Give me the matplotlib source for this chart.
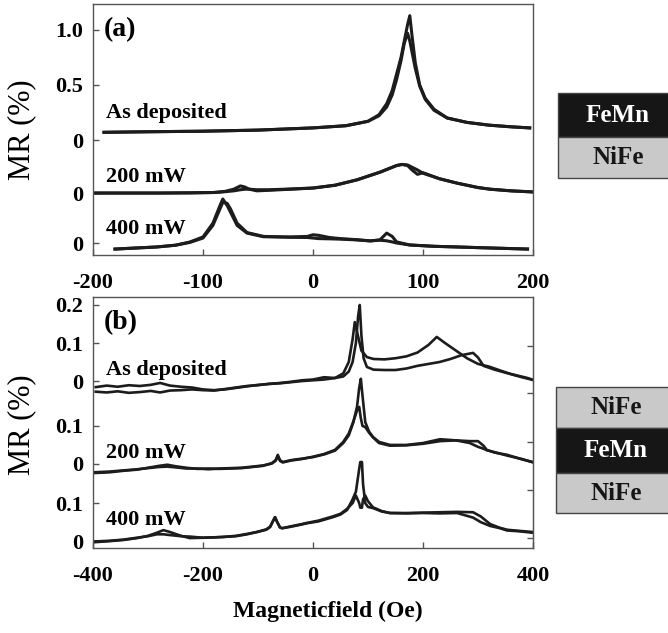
import matplotlib.pyplot as plt
from matplotlib.patches import Rectangle
import numpy as np

plt.rcParams['font.family'] = ['Liberation Serif', 'DejaVu Serif']
plt.rcParams['font.weight'] = 'bold'

# ---------------- panel (a): FeMn/NiFe bilayer, field -200..200 Oe
a_asdep_x = [-190, -150, -100, -50, 0, 30, 50, 60, 67, 72, 76, 80, 83, 86, 88, 90, 93, 97, 102, 110, 122, 140, 160, 180, 197]
a_asdep_up = [0.07, 0.075, 0.08, 0.09, 0.11, 0.13, 0.17, 0.23, 0.33, 0.45, 0.6, 0.75, 0.9, 1.05, 1.13, 0.95, 0.7, 0.5, 0.38, 0.28, 0.2, 0.16, 0.135, 0.12, 0.11]
a_asdep_dn = [0.07, 0.075, 0.08, 0.09, 0.11, 0.13, 0.17, 0.22, 0.3, 0.41, 0.55, 0.72, 0.88, 0.97, 0.9, 0.8, 0.65, 0.49, 0.37, 0.27, 0.2, 0.16, 0.135, 0.12, 0.11]

a_200_x = [-200, -170, -140, -110, -90, -80, -72, -66, -62, -58, -51, -40, -20, 0, 20, 40, 61, 76, 81, 86, 90, 95, 100, 115, 131, 150, 161, 180, 200]
a_200_up = [0.0, 0.0, 0.0, 0.002, 0.005, 0.015, 0.035, 0.065, 0.055, 0.035, 0.02, 0.025, 0.035, 0.045, 0.07, 0.12, 0.19, 0.25, 0.26, 0.255, 0.235, 0.21, 0.18, 0.13, 0.09, 0.05, 0.035, 0.02, 0.01]
a_200_dn = [0.0, 0.0, 0.0, 0.002, 0.005, 0.012, 0.02, 0.03, 0.035, 0.035, 0.03, 0.03, 0.037, 0.046, 0.072, 0.12, 0.19, 0.25, 0.26, 0.25, 0.21, 0.17, 0.185, 0.13, 0.09, 0.05, 0.035, 0.02, 0.01]

a_400_x = [-180, -160, -142, -125, -112, -100, -91, -85, -82, -78, -75, -69, -60, -45, -21, -5, 0, 5, 15, 25, 40, 52, 61, 67, 72, 76, 88, 110, 131, 160, 195]
a_400_up = [-0.055, -0.045, -0.036, -0.02, 0.009, 0.055, 0.18, 0.33, 0.40, 0.34, 0.28, 0.16, 0.09, 0.057, 0.055, 0.06, 0.075, 0.07, 0.05, 0.04, 0.03, 0.018, 0.03, 0.09, 0.06, 0.01, -0.018, -0.03, -0.036, -0.045, -0.055]
a_400_dn = [-0.055, -0.045, -0.036, -0.02, 0.005, 0.045, 0.16, 0.30, 0.37, 0.36, 0.31, 0.18, 0.095, 0.06, 0.052, 0.05, 0.045, 0.04, 0.038, 0.035, 0.028, 0.02, 0.025, 0.02, 0.01, 0.0, -0.018, -0.03, -0.036, -0.045, -0.055]

a_offsets = [0, -0.482, -0.936]
a_labels = ['As deposited', '200 mW', '400 mW']

# ---------------- panel (b): NiFe/FeMn/NiFe trilayer, field -400..400 Oe
b_asdep_x1 = [-395, -375, -355, -335, -315, -295, -278, -260, -240, -220, -200, -180, -160, -140, -120, -100, -80, -60, -40, -20, 0, 20, 40, 55, 65, 72, 76, 80, 88, 98, 110, 130, 150, 170, 190, 210, 225, 240, 260, 280, 300, 320, 340, 360, 380, 400]
b_asdep_y1 = [-0.016, -0.012, -0.015, -0.011, -0.013, -0.010, -0.005, -0.012, -0.015, -0.017, -0.022, -0.024, -0.022, -0.018, -0.014, -0.010, -0.008, -0.005, -0.002, 0.002, 0.004, 0.010, 0.008, 0.02, 0.05, 0.11, 0.155, 0.13, 0.08, 0.063, 0.058, 0.057, 0.060, 0.065, 0.075, 0.095, 0.116, 0.100, 0.080, 0.060, 0.045, 0.038, 0.028, 0.018, 0.010, 0.003]
b_asdep_x2 = [-395, -375, -355, -335, -315, -295, -278, -260, -240, -220, -200, -180, -160, -140, -120, -100, -80, -60, -40, -20, 0, 20, 40, 55, 65, 72, 78, 82, 85, 88, 92, 98, 110, 130, 150, 170, 190, 210, 230, 250, 270, 291, 300, 310, 330, 350, 370, 390, 400]
b_asdep_y2 = [-0.028, -0.030, -0.027, -0.031, -0.029, -0.026, -0.030, -0.025, -0.024, -0.022, -0.024, -0.025, -0.021, -0.017, -0.013, -0.011, -0.007, -0.006, -0.003, 0.000, 0.002, 0.004, 0.008, 0.012, 0.025, 0.05, 0.10, 0.17, 0.20, 0.12, 0.06, 0.037, 0.030, 0.029, 0.029, 0.033, 0.040, 0.045, 0.050, 0.058, 0.068, 0.074, 0.062, 0.040, 0.030, 0.022, 0.015, 0.008, 0.003]

b_200_x = [-400, -370, -345, -320, -300, -280, -265, -250, -230, -210, -190, -170, -150, -130, -110, -91, -75, -68, -64, -60, -55, -40, -20, 0, 20, 40, 55, 65, 73, 80, 84, 87, 90, 95, 102, 109, 120, 140, 170, 200, 231, 260, 285, 300, 310, 316, 330, 353, 380, 400]
b_200_y1 = [-0.024, -0.022, -0.018, -0.015, -0.010, -0.005, -0.002, -0.006, -0.010, -0.013, -0.012, -0.013, -0.012, -0.011, -0.008, -0.005, 0.002, 0.010, 0.024, 0.010, 0.005, 0.010, 0.014, 0.018, 0.025, 0.035, 0.055, 0.075, 0.108, 0.15, 0.20, 0.224, 0.18, 0.11, 0.085, 0.071, 0.058, 0.050, 0.050, 0.055, 0.065, 0.062, 0.060, 0.060, 0.048, 0.037, 0.030, 0.024, 0.012, 0.005]
b_200_y2 = [-0.022, -0.020, -0.017, -0.014, -0.011, -0.008, -0.007, -0.009, -0.012, -0.012, -0.014, -0.012, -0.011, -0.010, -0.007, -0.004, 0.001, 0.008, 0.020, 0.008, 0.004, 0.009, 0.013, 0.019, 0.026, 0.037, 0.058, 0.08, 0.11, 0.14, 0.15, 0.12, 0.10, 0.097, 0.082, 0.07, 0.055, 0.048, 0.049, 0.053, 0.060, 0.062, 0.055, 0.045, 0.040, 0.036, 0.031, 0.022, 0.013, 0.004]

b_400_x = [-400, -370, -345, -320, -300, -284, -272, -260, -240, -224, -200, -180, -164, -140, -120, -102, -85, -78, -72, -69, -65, -60, -56, -40, -20, -11, 10, 36, 50, 62, 72, 78, 84, 86, 89, 91, 95, 100, 109, 125, 140, 170, 200, 230, 262, 291, 305, 322, 340, 353, 375, 400]
b_400_y1 = [-0.003, 0.000, 0.003, 0.008, 0.014, 0.022, 0.029, 0.024, 0.014, 0.008, 0.009, 0.010, 0.011, 0.013, 0.018, 0.024, 0.030, 0.037, 0.055, 0.063, 0.05, 0.036, 0.034, 0.038, 0.044, 0.047, 0.052, 0.063, 0.070, 0.082, 0.11, 0.13, 0.19, 0.208, 0.208, 0.15, 0.10, 0.09, 0.087, 0.078, 0.074, 0.074, 0.075, 0.076, 0.077, 0.076, 0.065, 0.045, 0.035, 0.030, 0.027, 0.024]
b_400_y2 = [-0.001, 0.001, 0.004, 0.009, 0.013, 0.018, 0.018, 0.016, 0.013, 0.012, 0.009, 0.010, 0.011, 0.014, 0.019, 0.024, 0.031, 0.038, 0.055, 0.063, 0.05, 0.036, 0.034, 0.039, 0.045, 0.048, 0.054, 0.065, 0.072, 0.085, 0.10, 0.12, 0.10, 0.088, 0.088, 0.11, 0.12, 0.105, 0.089, 0.079, 0.074, 0.073, 0.074, 0.073, 0.074, 0.062, 0.050, 0.040, 0.034, 0.028, 0.026, 0.022]

b_offsets = [0, -0.218, -0.421]

LINE = '#1c1c1c'
SPINE = '#555555'
W, H = 668, 633

fig = plt.figure(figsize=(W / 100, H / 100), dpi=100)
axA = fig.add_axes([93 / W, 1 - 255 / H, 440 / W, 251 / H])
axB = fig.add_axes([93 / W, 1 - 548 / H, 440 / W, 251 / H])

# panel (a) curves
curvesA = [(a_asdep_x, a_asdep_up, a_asdep_x, a_asdep_dn),
           (a_200_x, a_200_up, a_200_x, a_200_dn),
           (a_400_x, a_400_up, a_400_x, a_400_dn)]
for (x1, y1, x2, y2), off in zip(curvesA, a_offsets):
    axA.plot(x1, off + np.array(y1), color=LINE, lw=2.2, solid_joinstyle='round')
    axA.plot(x2, off + np.array(y2), color=LINE, lw=2.2, solid_joinstyle='round')

curvesB = [(b_asdep_x1, b_asdep_y1, b_asdep_x2, b_asdep_y2),
           (b_200_x, b_200_y1, b_200_x, b_200_y2),
           (b_400_x, b_400_y1, b_400_x, b_400_y2)]
for (x1, y1, x2, y2), off in zip(curvesB, b_offsets):
    axB.plot(x1, off + np.array(y1), color=LINE, lw=1.9, solid_joinstyle='round')
    axB.plot(x2, off + np.array(y2), color=LINE, lw=1.9, solid_joinstyle='round')

axA.set_xlim(-200, 200)
axA.set_ylim(-1.045, 1.236)
axA.set_xticks([-200, -100, 0, 100, 200])
axA.set_xticklabels(['-200', '-100', '0', '100', '200'])
axA.set_yticks([1.0, 0.5] + a_offsets)
axA.set_yticklabels(['1.0', '0.5', '0', '0', '0'])

axB.set_xlim(-400, 400)
axB.set_ylim(-0.439, 0.221)
axB.set_xticks([-400, -200, 0, 200, 400])
axB.set_xticklabels(['-400', '-200', '0', '200', '400'])
bt = [0.2]
bl = ['0.2']
for off in b_offsets:
    bt += [off + 0.1, off]
    bl += ['0.1', '0']
axB.set_yticks(bt)
axB.set_yticklabels(bl)
sec = axB.secondary_yaxis('right')
sec.set_yticks([0.092, -0.032, -0.161, -0.287, -0.413])
sec.tick_params(direction='in', length=4, width=1, color=SPINE, labelright=False)
sec.spines['right'].set_color(SPINE)

for ax in (axA, axB):
    for s in ax.spines.values():
        s.set_color(SPINE)
        s.set_linewidth(1.0)
    ax.tick_params(axis='x', direction='in', length=4, width=1, color=SPINE,
                   pad=13, labelsize=16)
    ax.tick_params(axis='y', direction='in', length=4, width=1, color=SPINE,
                   pad=7, labelsize=16)

# panel letters and curve names
fig.text(104 / W, 1 - 30 / H, '(a)', fontsize=20, va='center', ha='left')
fig.text(104 / W, 1 - 323 / H, '(b)', fontsize=20, va='center', ha='left')
for lab, yp in zip(a_labels, [113, 177, 229]):
    fig.text(106 / W, 1 - yp / H, lab, fontsize=16, va='center', ha='left')
for lab, yp in zip(a_labels, [370, 453, 520]):
    fig.text(106 / W, 1 - yp / H, lab, fontsize=16, va='center', ha='left')

fig.text(22 / W, 1 - 130 / H, 'MR (%)', fontsize=22, fontweight='normal',
         rotation=90, va='center', ha='center')
fig.text(22 / W, 1 - 425 / H, 'MR (%)', fontsize=22, fontweight='normal',
         rotation=90, va='center', ha='center')
fig.text(328 / W, 1 - 611 / H, 'Magneticfield (Oe)', fontsize=17,
         va='center', ha='center')

# layer stacks
def layer(x0, y0, x1, y1, name, dark):
    fig.add_artist(Rectangle((x0 / W, 1 - y1 / H), (x1 - x0) / W, (y1 - y0) / H,
                             transform=fig.transFigure, facecolor='#161616' if dark else '#c9c9c9',
                             edgecolor='#444444', lw=1))
    fig.text((x0 + 60) / W, 1 - (y0 + y1) / 2 / H, name, fontsize=18,
             color='white' if dark else '#161616', va='center', ha='center')

layer(558, 93, 676, 137, 'FeMn', True)
layer(558, 137, 676, 178, 'NiFe', False)
layer(556, 387, 676, 428, 'NiFe', False)
layer(556, 428, 676, 473, 'FeMn', True)
layer(556, 473, 676, 513, 'NiFe', False)

fig.savefig('out.png', dpi=100)
